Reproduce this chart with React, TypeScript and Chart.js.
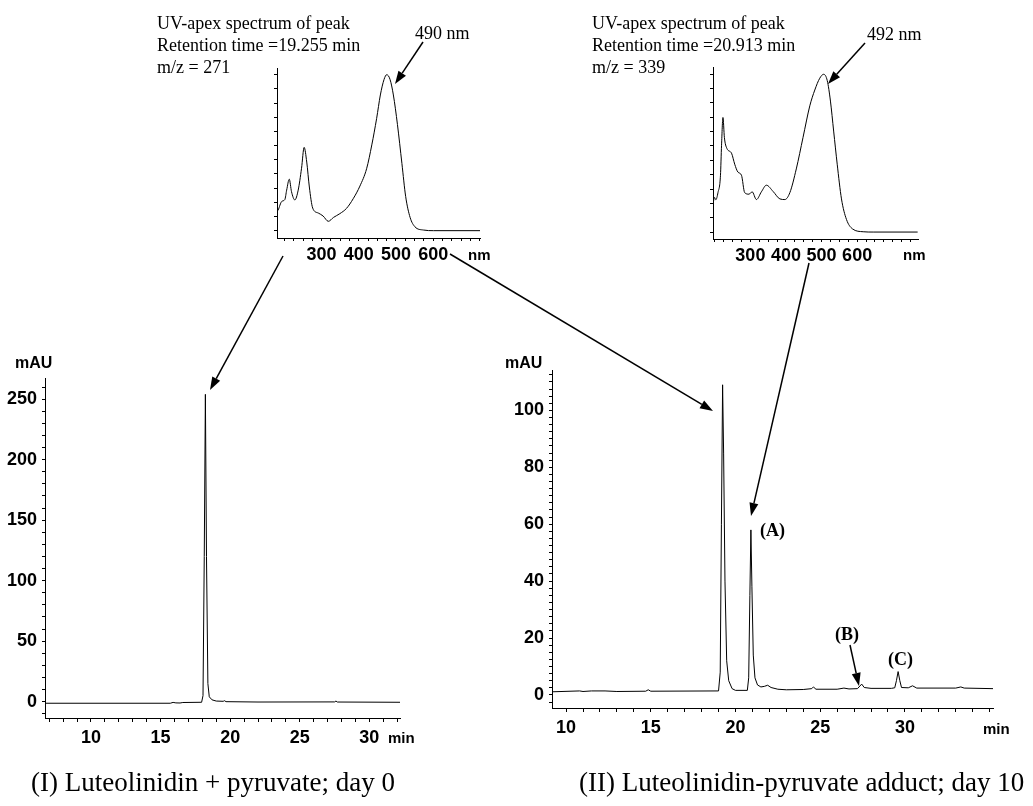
import React, { useEffect, useRef } from 'react';
import { Chart, registerables } from 'chart.js';

Chart.register(...registerables);

const W = 1033;
const H = 806;

// ---------- data ----------
// UV-apex spectrum, peak at 19.255 min (wavelength nm, relative absorbance)
const SPEC1_NM = [183, 193, 201, 206, 213, 219, 228, 237, 246, 253, 260, 267, 276, 291, 304, 318, 332, 349, 367, 385, 403, 421, 435, 448, 458, 468, 475, 484, 493, 504, 516, 526, 538, 551, 574, 601, 726];
const SPEC1_ABS = [13, 18.8, 19.9, 26, 33, 25, 19.7, 26, 40, 53.4, 44, 28, 14.5, 11.3, 9.4, 6, 8.5, 10.9, 14.3, 20.5, 28.6, 39.7, 55, 72, 87, 97, 100, 97, 87, 68, 43, 22, 8.5, 2.5, 0.4, 0, 0];

// UV-apex spectrum, peak at 20.913 min
const SPEC2_NM = [195, 199, 203, 209, 216, 219, 223, 227, 234, 247, 256, 265, 275, 284, 296, 305, 317, 331, 345, 364, 383, 397, 411, 429, 448, 467, 481, 495, 506, 516, 525, 534, 544, 556, 570, 587, 617, 645, 770];
const SPEC2_ABS = [17.3, 22, 20.5, 25, 36, 55, 72.6, 60, 53, 50, 43, 38, 36, 25, 24, 25.5, 20.6, 25.5, 29.7, 25.7, 21, 20.6, 25, 40, 60, 80, 90, 97.5, 100, 96, 83, 64, 43, 21, 8, 2, 0.2, 0, 0];

// Chromatogram (I): Luteolinidin + pyruvate; day 0
const CHROM1_MIN = [6.7, 15.7, 15.9, 16.1, 16.4, 16.6, 17.95, 18.05, 18.14, 18.22, 18.3, 18.4, 18.5, 18.7, 19.0, 19.5, 19.6, 19.7, 22, 27.5, 27.6, 27.7, 32.2];
const CHROM1_MAU = [-1.3, -1.3, -0.6, -1.0, -1.1, -0.7, -0.5, 5, 120, 254, 120, 15, 4, 1.5, 0.5, 0.3, 0.8, 0, -0.3, -0.2, 0.5, -0.3, -0.5];

// Chromatogram (II): Luteolinidin-pyruvate adduct; day 10
const CHROM2_MIN = [9.2, 10.8, 11.0, 11.5, 12.3, 13.0, 14.7, 14.85, 15.0, 19.0, 19.1, 19.17, 19.24, 19.3, 19.38, 19.48, 19.6, 19.8, 20.0, 20.7, 20.78, 20.85, 20.91, 20.97, 21.05, 21.15, 21.3, 21.5, 21.7, 21.9, 22.1, 22.5, 23.0, 24.0, 24.5, 24.6, 24.75, 26.0, 26.4, 26.7, 27.2, 27.45, 27.6, 28.0, 29.2, 29.4, 29.5, 29.6, 29.7, 29.8, 30.2, 30.45, 30.7, 33.0, 33.3, 33.5, 35.2];
const CHROM2_MAU = [1.1, 1.4, 1.2, 1.4, 1.4, 1.2, 1.3, 1.8, 1.3, 1.4, 8, 60, 109, 85, 40, 12, 5, 2.2, 1.6, 1.6, 6, 35, 58, 38, 14, 6, 3.5, 2.8, 3.0, 3.4, 2.6, 2.0, 1.8, 1.9, 2.2, 2.8, 2.0, 2.0, 2.4, 2.1, 2.2, 3.8, 2.6, 2.3, 2.3, 2.5, 5, 8.2, 5, 2.6, 2.5, 3.2, 2.4, 2.4, 2.8, 2.4, 2.2];

// tick labels
const SPEC_X_LABELS = [300, 400, 500, 600];
const CHROM1_X_LABELS = [10, 15, 20, 25, 30];
const CHROM1_Y_LABELS = [0, 50, 100, 150, 200, 250];
const CHROM2_X_LABELS = [10, 15, 20, 25, 30];
const CHROM2_Y_LABELS = [0, 20, 40, 60, 80, 100];

const SANS = '"Liberation Sans", Arial, sans-serif';
const SERIF = '"Liberation Serif", "Times New Roman", serif';

function steps(from: number, to: number, step: number): number[] {
  const out: number[] = [];
  const k0 = Math.ceil(from / step - 1e-9);
  for (let k = k0; k * step <= to + 1e-9; k++) out.push(Math.round(k * step * 1e6) / 1e6);
  return out;
}

interface Panel {
  id: string;
  left: number; right: number; top: number; bottom: number;
  xMin: number; xMax: number; yMin: number; yMax: number;
  xTicks: number[]; xLabels: number[];
  yTicks: number[]; yLabels: number[];
  xs: number[]; ys: number[];
  smooth: boolean;
  font: number;
  xTickLen: number; xPad: number;
  yTickLen: number; yPad: number;
}

const PANELS: Panel[] = [
  {
    id: 'spec1', left: 277, right: 480, top: 68, bottom: 238,
    xMin: 180, xMax: 726, yMin: -4.7, yMax: 104.3,
    xTicks: steps(180, 726, 25), xLabels: SPEC_X_LABELS,
    yTicks: steps(0, 100, 100 / 11), yLabels: [],
    xs: SPEC1_NM, ys: SPEC1_ABS, smooth: true, font: 18,
    xTickLen: 3, xPad: 3, yTickLen: 3, yPad: 4,
  },
  {
    id: 'spec2', left: 713, right: 918, top: 67, bottom: 239,
    xMin: 195, xMax: 771, yMin: -4.4, yMax: 104.6,
    xTicks: steps(195, 771, 25), xLabels: SPEC_X_LABELS,
    yTicks: steps(0, 100, 100 / 11), yLabels: [],
    xs: SPEC2_NM, ys: SPEC2_ABS, smooth: true, font: 18,
    xTickLen: 3, xPad: 3, yTickLen: 3, yPad: 4,
  },
  {
    id: 'chrom1', left: 45, right: 400, top: 378, bottom: 718,
    xMin: 6.7, xMax: 32.2, yMin: -13.5, yMax: 267.5,
    xTicks: steps(7, 32, 1), xLabels: CHROM1_X_LABELS,
    yTicks: steps(-10, 260, 10), yLabels: CHROM1_Y_LABELS,
    xs: CHROM1_MIN, ys: CHROM1_MAU, smooth: false, font: 18,
    xTickLen: 4, xPad: 5, yTickLen: 3, yPad: 5,
  },
  {
    id: 'chrom2', left: 552, right: 993, top: 370, bottom: 708,
    xMin: 9.17, xMax: 35.2, yMin: -4.6, yMax: 114.2,
    xTicks: steps(10, 35, 1), xLabels: CHROM2_X_LABELS,
    yTicks: steps(-2.5, 112.5, 2.5), yLabels: CHROM2_Y_LABELS,
    xs: CHROM2_MIN, ys: CHROM2_MAU, smooth: false, font: 18,
    xTickLen: 4, xPad: 5, yTickLen: 3, yPad: 5,
  },
];

function labelFor(v: number, labels: number[]): string {
  for (const l of labels) if (Math.abs(l - v) < 1e-6) return String(l);
  return '';
}

function arrow(ctx: CanvasRenderingContext2D, x1: number, y1: number, x2: number, y2: number) {
  const ang = Math.atan2(y2 - y1, x2 - x1);
  const len = 13;
  const half = 4.5;
  const bx = x2 - len * Math.cos(ang);
  const by = y2 - len * Math.sin(ang);
  ctx.beginPath();
  ctx.moveTo(x1, y1);
  ctx.lineTo(bx, by);
  ctx.stroke();
  ctx.beginPath();
  ctx.moveTo(x2, y2);
  ctx.lineTo(bx + half * Math.sin(ang), by - half * Math.cos(ang));
  ctx.lineTo(bx - half * Math.sin(ang), by + half * Math.cos(ang));
  ctx.closePath();
  ctx.fill();
}

const overlayPlugin = {
  id: 'overlay',
  afterDraw(chart: any) {
    const ctx: CanvasRenderingContext2D = chart.ctx;
    ctx.save();
    ctx.fillStyle = '#000';
    ctx.strokeStyle = '#000';

    // spectrum headers
    ctx.font = `18px ${SERIF}`;
    ctx.textAlign = 'left';
    ctx.textBaseline = 'alphabetic';
    ctx.fillText('UV-apex spectrum of peak', 157, 29);
    ctx.fillText('Retention time =19.255 min', 157, 51);
    ctx.fillText('m/z = 271', 157, 73);
    ctx.fillText('490 nm', 415, 39);
    ctx.fillText('UV-apex spectrum of peak', 592, 29);
    ctx.fillText('Retention time =20.913 min', 592, 51);
    ctx.fillText('m/z = 339', 592, 73);
    ctx.fillText('492 nm', 867, 40);

    // peak labels
    ctx.font = `bold 18px ${SERIF}`;
    ctx.fillText('(A)', 760, 536);
    ctx.fillText('(B)', 835, 640);
    ctx.fillText('(C)', 888, 665);

    // captions
    ctx.font = `27px ${SERIF}`;
    ctx.fillText('(I) Luteolinidin + pyruvate; day 0', 31, 791);
    ctx.fillText('(II) Luteolinidin-pyruvate adduct; day 10', 579, 791);

    // axis unit labels
    ctx.textBaseline = 'middle';
    ctx.font = `bold 16px ${SANS}`;
    ctx.fillText('mAU', 15, 364);
    ctx.fillText('mAU', 505, 364);
    ctx.font = `bold 15px ${SANS}`;
    ctx.fillText('min', 388, 739);
    ctx.fillText('min', 983, 730);
    ctx.fillText('nm', 468, 256);
    ctx.fillText('nm', 903, 256);

    // arrows
    ctx.lineWidth = 1.5;
    arrow(ctx, 423, 42, 395, 84);
    arrow(ctx, 865, 43, 828, 84);
    arrow(ctx, 283, 256, 210, 390);
    arrow(ctx, 450, 254, 713, 411);
    arrow(ctx, 809, 263, 751, 516);
    arrow(ctx, 850, 645, 859, 686);
    ctx.restore();
  },
};

const XH = 60;

function buildConfig(p: Panel, withOverlay: boolean): any {
  const tickFont = { family: SANS, size: p.font, weight: 'bold' as const };
  return {
    type: 'line',
    data: {
      datasets: [
        {
          data: p.xs.map((x, i) => ({ x, y: p.ys[i] })),
          borderColor: '#000',
          borderWidth: 1,
          pointRadius: 0,
          fill: false,
          tension: p.smooth ? 0.4 : 0,
          cubicInterpolationMode: p.smooth ? 'monotone' : 'default',
        },
      ],
    },
    options: {
      responsive: false,
      maintainAspectRatio: false,
      animation: false,
      devicePixelRatio: 1,
      events: [],
      layout: {
        padding: { left: 0, top: p.top, right: W - p.right, bottom: H - p.bottom - XH },
      },
      plugins: { legend: { display: false }, tooltip: { enabled: false } },
      scales: {
        x: {
          type: 'linear',
          min: p.xMin,
          max: p.xMax,
          afterFit: (s: any) => { s.height = XH; },
          afterBuildTicks: (s: any) => { s.ticks = p.xTicks.map((v) => ({ value: v })); },
          ticks: {
            autoSkip: false,
            maxRotation: 0,
            minRotation: 0,
            color: '#000',
            font: tickFont,
            padding: p.xPad,
            callback: (v: any) => labelFor(Number(v), p.xLabels),
          },
          grid: { display: true, drawOnChartArea: false, drawTicks: true, tickLength: p.xTickLen, tickColor: '#000', tickWidth: 1 },
          border: { display: true, color: '#000', width: 1 },
        },
        y: {
          type: 'linear',
          min: p.yMin,
          max: p.yMax,
          afterFit: (s: any) => { s.width = p.left; },
          afterBuildTicks: (s: any) => { s.ticks = p.yTicks.map((v) => ({ value: v })); },
          ticks: {
            autoSkip: false,
            color: '#000',
            font: tickFont,
            padding: p.yPad,
            callback: (v: any) => labelFor(Number(v), p.yLabels),
          },
          grid: { display: true, drawOnChartArea: false, drawTicks: true, tickLength: p.yTickLen, tickColor: '#000', tickWidth: 1 },
          border: { display: true, color: '#000', width: 1 },
        },
      },
    },
    plugins: withOverlay ? [overlayPlugin] : [],
  };
}

export default function App() {
  const refs = useRef<(HTMLCanvasElement | null)[]>([]);
  useEffect(() => {
    const charts = PANELS.map((p, i) => new Chart(refs.current[i] as HTMLCanvasElement, buildConfig(p, i === PANELS.length - 1)));
    return () => charts.forEach((c) => c.destroy());
  }, []);
  return (
    <div style={{ position: 'absolute', left: 0, top: 0, width: W, height: H, background: '#fff', overflow: 'hidden' }}>
      {PANELS.map((p, i) => (
        <canvas
          key={p.id}
          ref={(el) => { refs.current[i] = el; }}
          width={W}
          height={H}
          style={{ position: 'absolute', left: 0, top: 0, width: W, height: H }}
        />
      ))}
    </div>
  );
}
